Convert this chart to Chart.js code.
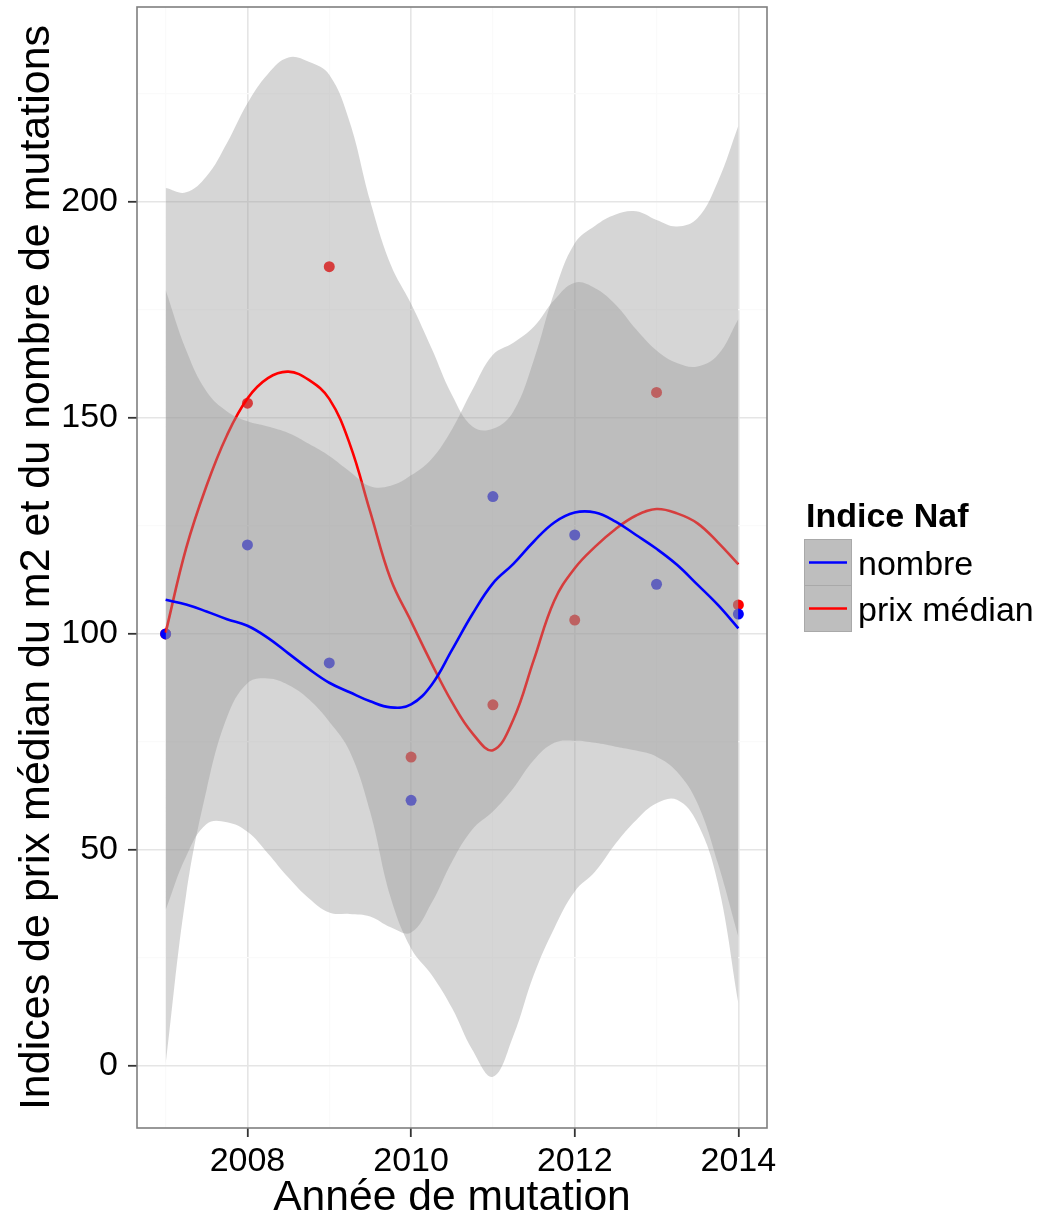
<!DOCTYPE html>
<html>
<head>
<meta charset="utf-8">
<title>Indices Naf</title>
<script src="https://cdn.jsdelivr.net/npm/chart.js@4.4.1/dist/chart.umd.min.js"></script>
<style>
    html, body { margin: 0; padding: 0; background: #ffffff; }
    #wrap { width: 1061px; height: 1221px; }
</style>
</head>
<body>
<div id="wrap"><canvas id="myChart" width="1061" height="1221"></canvas></div>
<script>
// --- Données observées (indices base 100 en 2007) ---
var annees = [2007, 2008, 2009, 2010, 2011, 2012, 2013, 2014];
var nombreIndices = [100, 120.6, 93.3, 61.5, 131.8, 122.9, 111.5, 104.6];
var prixIndices = [100, 153.4, 185.0, 71.5, 83.6, 103.2, 155.9, 106.7];

// --- Courbes lissées (loess) et intervalles de confiance ---
var anneesLisse = [2007, 2007.25, 2007.5, 2007.75, 2008, 2008.25, 2008.5, 2008.75,
    2009, 2009.25, 2009.5, 2009.75, 2010, 2010.25, 2010.5, 2010.75,
    2011, 2011.25, 2011.5, 2011.75, 2012, 2012.25, 2012.5, 2012.75,
    2013, 2013.25, 2013.5, 2013.75, 2014];

var nombreLisse = [107.9, 106.8, 105.2, 103.4, 101.9, 99.1, 95.5, 91.9,
    88.7, 86.5, 84.4, 83.0, 83.7, 88.2, 96.3, 104.6,
    111.7, 116.2, 121.4, 125.8, 128.1, 128.1, 126.0, 122.9,
    119.7, 116.0, 111.4, 106.7, 101.3];
var nombreHaut = [179.6, 165.7, 156.1, 151.5, 149.2, 148.0, 146.5, 144.0,
    141.2, 137.6, 134.2, 134.3, 136.7, 140.5, 147.4, 156.5,
    164.6, 167.4, 171.1, 177.3, 181.3, 180.0, 176.2, 170.5,
    165.6, 162.7, 161.9, 164.6, 172.9];
var nombreBas = [36.1, 48.5, 56.0, 56.4, 54.2, 49.2, 43.6, 38.8,
    35.5, 35.2, 34.6, 32.1, 30.9, 37.7, 47.3, 54.8,
    58.9, 64.3, 70.8, 74.8, 75.3, 74.8, 73.9, 73.0,
    71.6, 68.1, 60.8, 46.9, 29.9];

var prixLisse = [100.3, 119.8, 134.3, 146.0, 154.5, 159.2, 160.7, 158.8,
    154.4, 144.0, 128.3, 112.7, 102.9, 93.2, 84.2, 77.0,
    73.1, 80.2, 94.0, 107.7, 115.2, 120.2, 124.3, 127.4,
    128.9, 127.9, 125.6, 121.2, 116.1];
var prixHaut = [203.2, 202.2, 205.9, 213.6, 222.8, 229.6, 233.4, 232.4,
    229.4, 218.4, 200.2, 185.5, 176.4, 166.1, 155.3, 148.0,
    147.5, 151.5, 163.4, 179.0, 190.4, 194.5, 197.1, 197.8,
    195.8, 194.3, 196.2, 204.7, 217.6];
var prixBas = [0.5, 39.6, 63.9, 80.7, 88.6, 89.7, 88.2, 84.9,
    79.7, 72.8, 58.8, 39.0, 27.2, 21.1, 13.4, 3.7,
    -2.5, 7.0, 21.1, 31.9, 40.4, 45.0, 51.5, 56.9,
    60.8, 61.6, 56.2, 42.3, 14.5];

// --- Graduations (majeures avec libellé, mineures sans) ---
var xTicks = [2007, 2008, 2009, 2010, 2011, 2012, 2013, 2014];
var xLabels = [2008, 2010, 2012, 2014];
var yTicks = [0, 25, 50, 75, 100, 125, 150, 175, 200, 225];
var yLabels = [0, 50, 100, 150, 200];

// --- Légende ---
var seriesNames = ['nombre', 'prix médian'];
var seriesColors = ['#0000ff', '#ff0000'];

var POLICE = "'Liberation Sans', Arial, Helvetica, sans-serif";
var bandFill = 'rgba(153, 153, 153, 0.4)';
var LISSAGE = 0.4;

Chart.defaults.font.family = POLICE;
Chart.defaults.color = '#000000';

// Transforme deux listes en points {x, y}
function toXY(xs, ys) {
    return xs.map(function (x, i) { return { x: x, y: ys[i] }; });
}

// Ligne lissée
function courbe(label, ys, color, order) {
    return {
        label: label,
        data: toXY(anneesLisse, ys),
        borderColor: color,
        borderWidth: 2.6,
        pointRadius: 0,
        fill: false,
        tension: LISSAGE,
        order: order
    };
}

// Bord d'un ruban (invisible, sert au remplissage)
function bord(label, ys, fill, order) {
    return {
        label: label,
        data: toXY(anneesLisse, ys),
        borderColor: 'rgba(0,0,0,0)',
        borderWidth: 1,
        backgroundColor: bandFill,
        pointRadius: 0,
        fill: fill,
        tension: LISSAGE,
        order: order
    };
}

// Nuage de points
function nuage(label, ys, color, order) {
    return {
        label: label,
        data: toXY(annees, ys),
        showLine: false,
        pointRadius: 5.5,
        pointBackgroundColor: color,
        pointBorderWidth: 0,
        pointBorderColor: 'rgba(0,0,0,0)',
        order: order
    };
}

// Cadre du panneau (dessiné par-dessus les données, comme ggplot)
var cadrePanneau = {
    id: 'cadrePanneau',
    afterDatasetsDraw: function (chart) {
        var a = chart.chartArea;
        var ctx = chart.ctx;
        ctx.save();
        ctx.strokeStyle = '#7f7f7f';
        ctx.lineWidth = 1.6;
        ctx.strokeRect(a.left, a.top, a.right - a.left, a.bottom - a.top);
        ctx.restore();
    }
};

// Légende façon ggplot : titre gras + clés grises avec trait coloré
var legendeNaf = {
    id: 'legendeNaf',
    afterDraw: function (chart) {
        var ctx = chart.ctx;
        ctx.save();
        ctx.textBaseline = 'alphabetic';
        ctx.textAlign = 'left';
        ctx.fillStyle = '#000000';
        ctx.font = 'bold 34px ' + POLICE;
        ctx.fillText('Indice Naf', 806, 527);

        seriesNames.forEach(function (name, i) {
            var top = 539.5 + i * 46;
            ctx.fillStyle = '#bebebe';
            ctx.fillRect(804.5, top, 47, 46);
            ctx.strokeStyle = '#a9a9a9';
            ctx.lineWidth = 1;
            ctx.strokeRect(804.5, top, 47, 46);

            ctx.strokeStyle = seriesColors[i];
            ctx.lineWidth = 2.6;
            ctx.beginPath();
            ctx.moveTo(809, top + 23);
            ctx.lineTo(847, top + 23);
            ctx.stroke();

            ctx.fillStyle = '#000000';
            ctx.font = '34px ' + POLICE;
            ctx.fillText(name, 858, top + 35.5);
        });
        ctx.restore();
    }
};

function estMajeur(ctx, liste) {
    return ctx.tick && liste.indexOf(ctx.tick.value) !== -1;
}

// pas de marge automatique autour de la zone de tracé
function sansMarge(s) {
    s.paddingTop = 0;
    s.paddingBottom = 0;
    s.paddingLeft = 0;
    s.paddingRight = 0;
}

var ctx = document.getElementById('myChart');

var myChart = new Chart(ctx.getContext('2d'), {
    type: 'line',
    data: {
        datasets: [
            // ordre de dessin : points, ruban prix, ligne prix, ruban nombre, ligne nombre
            courbe('nombre', nombreLisse, seriesColors[0], 1),
            bord('nombre haut', nombreHaut, '+1', 2),
            bord('nombre bas', nombreBas, false, 2),
            courbe('prix médian', prixLisse, seriesColors[1], 3),
            bord('prix haut', prixHaut, '+1', 4),
            bord('prix bas', prixBas, false, 4),
            nuage('nombre (points)', nombreIndices, seriesColors[0], 5),
            nuage('prix médian (points)', prixIndices, seriesColors[1], 6)
        ]
    },
    options: {
        responsive: false,
        animation: false,
        events: [],
        layout: { padding: { left: 0, top: 7, right: 294, bottom: 0 } },
        plugins: {
            legend: { display: false },
            tooltip: { enabled: false }
        },
        scales: {
            x: {
                type: 'linear',
                min: 2006.65,
                max: 2014.35,
                afterBuildTicks: function (s) { s.ticks = xTicks.map(function (v) { return { value: v }; }); },
                afterFit: function (s) { s.height = 93; sansMarge(s); },
                border: { display: false },
                grid: {
                    color: function (c) { return estMajeur(c, xLabels) ? '#e5e5e5' : '#fafafa'; },
                    lineWidth: function (c) { return estMajeur(c, xLabels) ? 1.6 : 1.2; },
                    tickColor: function (c) { return estMajeur(c, xLabels) ? '#333333' : 'rgba(0,0,0,0)'; },
                    tickWidth: 1.8,
                    tickLength: 9
                },
                ticks: {
                    autoSkip: false,
                    maxRotation: 0,
                    padding: 8,
                    color: '#000000',
                    font: { size: 34, lineHeight: 1 },
                    callback: function (v) { return xLabels.indexOf(v) !== -1 ? String(v) : ''; }
                },
                title: {
                    display: true,
                    text: 'Année de mutation',
                    color: '#000000',
                    font: { size: 42.6, lineHeight: 1 },
                    padding: { top: 0, bottom: 1 }
                }
            },
            y: {
                type: 'linear',
                min: -14.35,
                max: 245.1,
                afterBuildTicks: function (s) { s.ticks = yTicks.map(function (v) { return { value: v }; }); },
                afterFit: function (s) { s.width = 137; sansMarge(s); },
                border: { display: false },
                grid: {
                    color: function (c) { return estMajeur(c, yLabels) ? '#e5e5e5' : '#fafafa'; },
                    lineWidth: function (c) { return estMajeur(c, yLabels) ? 1.6 : 1.2; },
                    tickColor: function (c) { return estMajeur(c, yLabels) ? '#333333' : 'rgba(0,0,0,0)'; },
                    tickWidth: 1.8,
                    tickLength: 9
                },
                ticks: {
                    autoSkip: false,
                    padding: 10,
                    color: '#000000',
                    font: { size: 34, lineHeight: 1 },
                    callback: function (v) { return yLabels.indexOf(v) !== -1 ? String(v) : ''; }
                },
                title: {
                    display: true,
                    text: 'Indices de prix médian du m2 et du nombre de mutations',
                    color: '#000000',
                    font: { size: 43, lineHeight: 1 },
                    padding: { top: 16, bottom: 0 }
                }
            }
        }
    },
    plugins: [cadrePanneau, legendeNaf]
});
</script>
</body>
</html>
